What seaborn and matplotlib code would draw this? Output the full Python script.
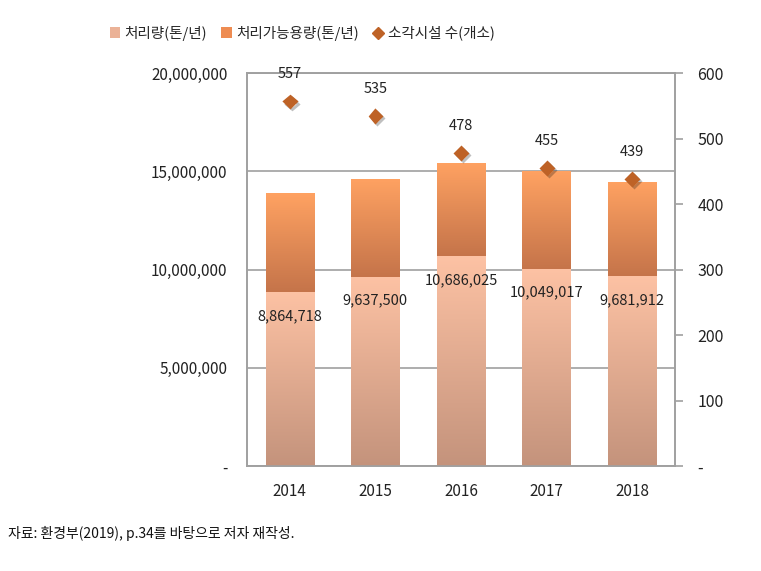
import numpy as np
import pandas as pd
import matplotlib
matplotlib.use("Agg")
import matplotlib.pyplot as plt
import matplotlib.patheffects as pe
from matplotlib.colors import LinearSegmentedColormap
from matplotlib.lines import Line2D
from matplotlib.patches import Patch
from matplotlib.ticker import FuncFormatter
import seaborn as sns

# 데이터
years = ["2014", "2015", "2016", "2017", "2018"]
processed = [8864718, 9637500, 10686025, 10049017, 9681912]      # 처리량(톤/년)
capacity = [13890000, 14630000, 15450000, 15010000, 14480000]     # 처리가능용량(톤/년), 그림에서 읽음
facilities = [557, 535, 478, 455, 439]                            # 소각시설 수(개소)

df = pd.DataFrame({"year": years, "processed": processed,
                   "capacity": capacity, "facilities": facilities})

sns.set_style("white")
plt.rcParams['font.family'] = ['Noto Sans CJK KR', 'DejaVu Sans']

fig = plt.figure(figsize=(7.61, 5.71), dpi=100)
ax = fig.add_axes([0.3246, 0.1839, 0.5624, 0.6877])

bar_w = 0.565
sns.barplot(data=df, x="year", y="capacity", color="#F59A5C", width=bar_w,
            ax=ax, zorder=2)
n_cap = len(ax.patches)
sns.barplot(data=df, x="year", y="processed", color="#F5BFA2", width=bar_w,
            ax=ax, zorder=3)
cap_bars = ax.patches[:n_cap]
proc_bars = ax.patches[n_cap:]


def fill_gradient(patch, c_top, c_bot, lo, hi, z):
    """ 막대 안을 세로 그라데이션으로 채움 """
    x0, w = patch.get_x(), patch.get_width()
    cmap = LinearSegmentedColormap.from_list("g", [c_bot, c_top])
    grad = np.linspace(0, 1, 256).reshape(-1, 1)
    im = ax.imshow(grad, cmap=cmap, aspect="auto", origin="lower",
                   extent=[x0, x0 + w, lo, hi], zorder=z, interpolation="bilinear")
    im.set_clip_path(patch)
    patch.set_facecolor("none")
    patch.set_edgecolor("none")


for cp, pp in zip(cap_bars, proc_bars):
    fill_gradient(cp, "#FFA262", "#C5744A", pp.get_height(), cp.get_height(), 2)
    fill_gradient(pp, "#FDC2A4", "#C4937C", 0, pp.get_height(), 3)

ax.set_xlim(-0.5, len(years) - 0.5)
ax.set_ylim(0, 20000000)
ax.set_yticks(np.arange(0, 20000001, 5000000))
ax.yaxis.set_major_formatter(FuncFormatter(lambda v, p: f"{v:,.0f}" if v > 0 else "-"))
ax.yaxis.grid(True, color="#A0A0A0", lw=1.2)
ax.set_axisbelow(True)
ax.set_xlabel("")
ax.set_ylabel("")
ax.tick_params(axis="y", length=0, pad=14, labelsize=11, labelcolor="#222222")
ax.tick_params(axis="x", length=0, pad=12, labelsize=11, labelcolor="#222222")
for s in ax.spines.values():
    s.set_color("#A0A0A0")
    s.set_linewidth(1.2)

# 처리량 라벨
for pp, v in zip(proc_bars, processed):
    ax.annotate(f"{v:,}", (pp.get_x() + pp.get_width() / 2, v),
                xytext=(0, -24), textcoords="offset pixels",
                ha="center", va="center", fontsize=10.5, color="#222222", zorder=5)

# 보조축: 소각시설 수
ax2 = ax.twinx()
sns.pointplot(data=df, x="year", y="facilities", linestyle="none", markers="D",
              color="#BE6226", markersize=6, ax=ax2)
for ln in ax2.lines:
    ln.set_path_effects([pe.SimpleLineShadow(offset=(1.5, -1.5), alpha=0.25), pe.Normal()])
ax2.set_xlim(-0.5, len(years) - 0.5)
ax2.set_ylim(0, 600)
ax2.set_yticks(np.arange(0, 601, 100))
ax2.yaxis.set_major_formatter(FuncFormatter(lambda v, p: f"{v:.0f}" if v > 0 else "-"))
ax2.tick_params(axis="y", length=6, width=1.2, color="#A0A0A0", pad=10,
                labelsize=11.5, labelcolor="#222222")
ax2.set_ylabel("")
ax2.set_xlabel("")
for s in ax2.spines.values():
    s.set_color("#A0A0A0")
    s.set_linewidth(1.2)

for i, v in enumerate(facilities):
    ax2.annotate(f"{v}", (i, v), xytext=(0, 27), textcoords="offset pixels",
                 ha="center", va="center", fontsize=10.5, color="#222222")

# 범례
handles = [Patch(facecolor="#EBB297", edgecolor="none"),
           Patch(facecolor="#EE8C52", edgecolor="none"),
           Line2D([], [], marker="D", ls="none", color="#BE6226", markersize=6)]
labels = ["처리량(톤/년)", "처리가능용량(톤/년)", "소각시설 수(개소)"]
fig.legend(handles, labels, loc="center", bbox_to_anchor=(0.397, 0.942), ncol=3,
           frameon=False, fontsize=10.5, handlelength=0.7, handleheight=0.7,
           handletextpad=0.3, columnspacing=1.0)

fig.text(0.011, 0.065, "자료: 환경부(2019), p.34를 바탕으로 저자 재작성.",
         fontsize=10, va="center", ha="left", color="#111111")

fig.savefig("out.png", dpi=100)
